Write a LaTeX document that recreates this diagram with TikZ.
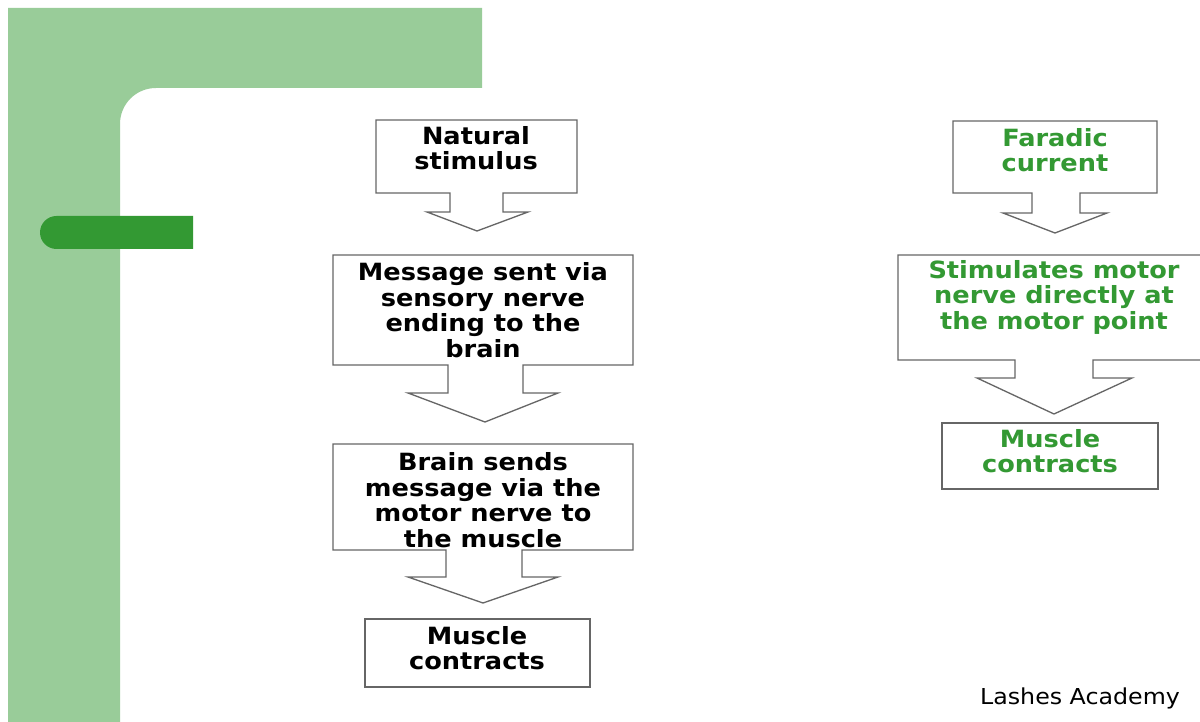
\documentclass[tikz,border=0pt]{standalone}
\usepackage{fontspec}
\setmainfont{DejaVu Sans}[FakeStretch=1.08]
\definecolor{lightgr}{RGB}{153,204,153}
\definecolor{darkgr}{RGB}{51,153,51}
\definecolor{txtgr}{RGB}{51,153,51}
\tikzset{
  outl/.style={draw=black!60, line width=0.75pt, fill=white, line join=miter},
  lbl/.style={align=center, font=\fontsize{13.5}{14.5}\selectfont\bfseries, inner sep=0pt},
  lblk/.style={lbl, text=black},
  lblg/.style={lbl, text=txtgr},
  credit/.style={font=\fontsize{12.5}{14}\selectfont, inner sep=0pt, text=black}
}
\begin{document}
\begin{tikzpicture}[x={(0.02cm,0)}, y={(0,-0.02cm)}]
\useasboundingbox (0,0) rectangle (1200,722);
\clip (0,0) rectangle (1200,722);
\fill[white] (0,0) rectangle (1200,722);
% green frame
\fill[lightgr] (8,8) -- (482,8) -- (482,88) -- (156,88)
  .. controls (136,88) and (120,104) .. (120,124) -- (120,722) -- (8,722) -- cycle;
% dark pill
\fill[darkgr] (193,216) -- (56.5,216) .. controls (47.4,216) and (40,223.4) .. (40,232.5)
  .. controls (40,241.6) and (47.4,249) .. (56.5,249) -- (193,249) -- cycle;

% left column callouts
\draw[outl] (376,193) -- (376,120) -- (577,120) -- (577,193) -- (503,193) -- (503,212)
  -- (528,212) -- (477,231) -- (427,212) -- (450,212) -- (450,193) -- cycle;
\draw[outl] (333,365) -- (333,255) -- (633,255) -- (633,365) -- (523,365) -- (523,393)
  -- (558,393) -- (485,422) -- (408,393) -- (448,393) -- (448,365) -- cycle;
\draw[outl] (333,550) -- (333,444) -- (633,444) -- (633,550) -- (522,550) -- (522,577)
  -- (558,577) -- (483,603) -- (408,577) -- (446,577) -- (446,550) -- cycle;
\draw[outl] (365,619) rectangle (590,687);

% right column callouts
\draw[outl] (953,193) -- (953,121) -- (1157,121) -- (1157,193) -- (1080,193) -- (1080,213)
  -- (1107,213) -- (1055,233) -- (1003,213) -- (1032,213) -- (1032,193) -- cycle;
\draw[outl] (898,360) -- (898,255) -- (1210,255) -- (1210,360) -- (1093,360) -- (1093,378)
  -- (1132,378) -- (1054,414) -- (977,378) -- (1015,378) -- (1015,360) -- cycle;
\draw[outl] (942,423) rectangle (1158,489);

% texts
\node[lblk] (n1) at (476,148) {Natural\\stimulus};
\node[lblk] (n2) at (483,310) {Message sent via\\sensory nerve\\ending to the\\brain};
\node[lblk] (n3) at (483,500) {Brain sends\\message via the\\motor nerve to\\the muscle};
\node[lblk] (n4) at (477,648) {Muscle\\contracts};
\node[lblg] (r1) at (1055,150) {Faradic\\current};
\node[lblg] (r2) at (1054,297) {Stimulates motor\\nerve directly at\\the motor point};
\node[lblg] (r3) at (1050,451) {Muscle\\contracts};
\node[credit] (cr) at (1080,698) {Lashes Academy};
\end{tikzpicture}
\end{document}
